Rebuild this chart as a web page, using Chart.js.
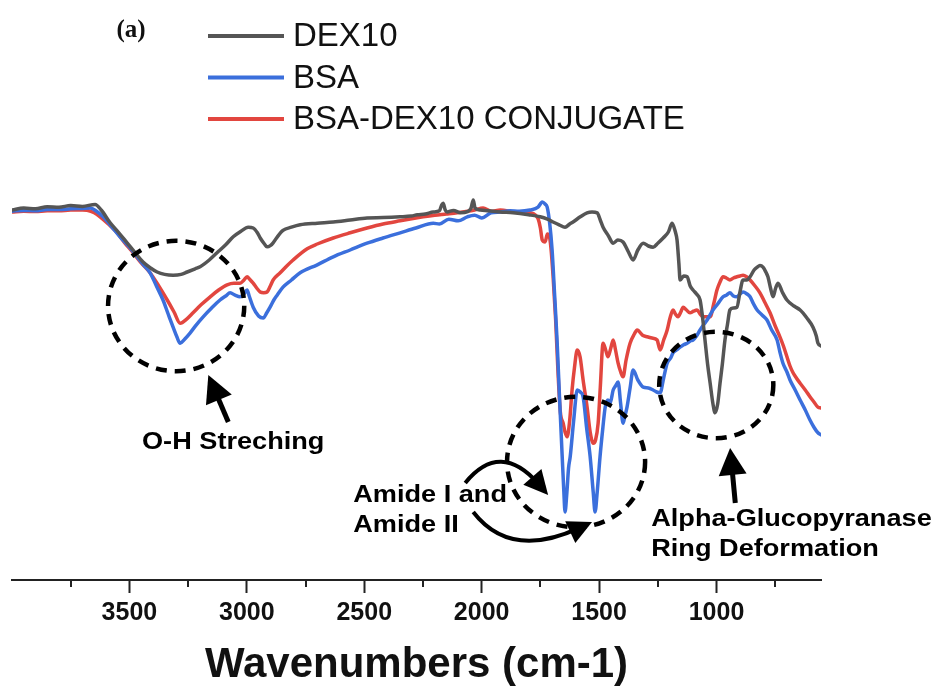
<!DOCTYPE html>
<html><head><meta charset="utf-8">
<script src="https://cdn.jsdelivr.net/npm/chart.js@4.4.1/dist/chart.umd.min.js"></script>
<style>html,body{margin:0;padding:0;background:#fff;overflow:hidden}canvas{display:block}</style>
</head><body>
<canvas id="c" width="941" height="695"></canvas>
<script>
// ---------- DATA (wavenumber cm-1, transmittance a.u.) ----------
const SERIES_NAMES = ['DEX10', 'BSA', 'BSA-DEX10 CONJUGATE'];
const DEX10 = [[4000,92.5],[3950,93],[3900,92.8],[3850,93.3],[3800,93.2],[3750,93.6],[3700,93.4],[3646,93.9],[3620,92.5],[3582,89.3],[3545,86.8],[3510,84.3],[3475,81.8],[3442,79.5],[3410,78],[3382,77],[3350,76.4],[3314,76.2],[3280,76.4],[3254,77],[3220,77.8],[3199,78.3],[3160,80],[3127,81.8],[3090,83.8],[3058,85.8],[3025,87.2],[2994,88.2],[2973,88],[2955,86.8],[2943,85.5],[2925,84],[2914,83.3],[2900,83.6],[2888,84.3],[2870,85.8],[2846,87.4],[2810,88.2],[2773,88.8],[2700,89.2],[2632,89.5],[2560,90],[2488,90.5],[2420,90.6],[2347,90.8],[2300,91],[2274,91.3],[2240,91.5],[2206,92],[2180,92.3],[2170,93.8],[2164,94.2],[2155,92.5],[2147,92],[2120,92.4],[2090,91.8],[2061,92.1],[2045,93],[2036,95],[2028,93],[2006,92.5],[1970,92.3],[1921,92],[1866,91.8],[1800,91.3],[1751,90.8],[1720,90.2],[1696,89.5],[1670,88.8],[1645,88.2],[1625,89],[1611,89.5],[1580,90.8],[1551,91.8],[1530,92],[1508,91.8],[1495,90],[1483,88.2],[1460,86],[1440,84.2],[1420,85],[1398,84.5],[1375,82],[1355,80],[1335,82.5],[1312,84.2],[1290,83.5],[1270,83.2],[1250,84.2],[1227,85.5],[1205,87],[1189,89.2],[1175,87],[1168,85],[1160,79],[1155,75],[1140,76],[1125,75.8],[1112,73.5],[1100,72.5],[1085,71.5],[1070,70],[1060,66],[1049,60],[1038,54],[1027,49.2],[1015,44],[1006,41.8],[995,44],[985,49.2],[975,54],[964,60],[953,64],[943,67.5],[928,68],[913,68.2],[900,72],[887,75],[870,75],[857,75.8],[840,77.5],[827,78.2],[815,78.6],[802,78.2],[790,77],[781,75.8],[770,73],[759,70.8],[748,73],[738,74.2],[720,72],[700,70],[670,68.5],[644,67.5],[615,65.5],[589,63.2],[575,61],[568,59.2],[555,58.5]];
const BSA = [[4000,92.2],[3950,92.4],[3900,92.3],[3850,92.6],[3800,92.6],[3750,92.8],[3700,92.9],[3667,93],[3640,92.2],[3612,90.8],[3575,88.3],[3540,85.8],[3500,83.2],[3467,80.8],[3440,78.8],[3412,76.8],[3385,73.5],[3357,70],[3335,66.5],[3314,63.2],[3298,60.8],[3284,59.2],[3265,60.2],[3241,61.8],[3215,63.8],[3186,65.8],[3150,68],[3114,70],[3090,71],[3071,71.8],[3050,71.2],[3029,70.8],[3012,71.5],[2999,72.5],[2990,71],[2973,68.2],[2950,66],[2930,65.5],[2915,66.8],[2901,68.2],[2885,70],[2871,71.2],[2846,73.2],[2810,75],[2773,76.8],[2700,78.8],[2632,80.8],[2560,82.5],[2488,84.2],[2420,85.5],[2347,86.8],[2280,88],[2206,89.2],[2180,89],[2140,90.2],[2100,89.8],[2061,90.8],[2030,91.2],[2000,90.5],[1960,91.8],[1921,92],[1880,92.3],[1840,92.2],[1794,92.5],[1760,93.2],[1742,94.5],[1730,94],[1721,93.2],[1710,89],[1700,82.5],[1690,72],[1679,60],[1668,45],[1657,30.8],[1650,22],[1645,17],[1637,22],[1630,28],[1623,30.8],[1608,40],[1593,47.5],[1580,47],[1568,45.8],[1553,38],[1538,30.8],[1525,22],[1517,17],[1508,22],[1496,30.8],[1484,38],[1474,43.2],[1462,45],[1453,44.2],[1440,47.5],[1430,48.5],[1419,49.5],[1408,44],[1398,39.2],[1390,41],[1381,43.2],[1368,48],[1355,52.5],[1335,50],[1312,48.2],[1290,48],[1270,47.5],[1255,47],[1240,46.8],[1225,50.5],[1210,54.2],[1195,55.5],[1185,56.8],[1170,57.5],[1155,58.2],[1140,58.8],[1125,59.2],[1110,59.8],[1100,60],[1085,61],[1070,62.5],[1055,63.8],[1040,65],[1028,66.2],[1015,67.5],[995,69],[972,70.8],[958,71.2],[943,71.8],[928,71],[913,70.8],[900,71.5],[887,72],[870,71.5],[857,70.8],[842,69],[827,67.5],[805,66.2],[785,65],[765,62.5],[742,60],[730,57],[717,54.2],[700,52],[687,50],[665,47.5],[644,45],[622,42.5],[602,40],[585,38.2],[568,36.8],[555,36.3]];
const CONJUGATE = [[4000,92],[3950,92.2],[3900,92.1],[3850,92.3],[3800,92.3],[3750,92.5],[3700,92.5],[3680,92.4],[3650,91.8],[3625,90.8],[3590,89],[3552,86.8],[3520,84.3],[3484,81.8],[3450,79.3],[3412,76.8],[3375,73.5],[3339,70],[3310,67],[3284,64.2],[3255,65.3],[3229,66.8],[3195,68.8],[3156,70.8],[3120,72.5],[3084,73.8],[3055,74.2],[3029,74.2],[3012,75],[2999,75.8],[2988,75.2],[2973,74.2],[2958,73],[2943,72],[2928,71.8],[2914,72],[2900,73.5],[2888,75],[2858,76.8],[2830,78.5],[2803,80],[2743,82.8],[2700,84],[2632,85.5],[2560,86.8],[2488,88],[2420,89],[2347,89.8],[2280,90.5],[2249,90.8],[2200,91.2],[2150,91.5],[2104,91.8],[2060,92.2],[2030,92.5],[1994,93],[1960,92.2],[1921,92.5],[1860,92],[1794,91.8],[1770,91.2],[1759,90.2],[1750,88],[1742,85],[1730,84.5],[1720,86.5],[1712,86],[1705,83],[1696,76],[1685,65],[1675,52],[1665,42],[1653,39.2],[1645,37],[1636,35.8],[1625,40],[1615,47.5],[1605,53],[1593,57.5],[1581,55.8],[1568,50],[1551,43.2],[1538,37],[1525,34.2],[1515,35],[1504,39.2],[1495,48],[1483,59.2],[1472,57.5],[1462,55.8],[1450,58],[1440,60],[1430,57.5],[1419,54.2],[1408,52],[1398,50.8],[1385,55],[1368,59.2],[1350,61.5],[1338,62.5],[1315,61.2],[1295,60.8],[1275,60.5],[1253,60],[1240,57.5],[1225,60],[1210,62.5],[1198,65.5],[1185,67.5],[1175,66.5],[1164,65.8],[1152,67],[1142,68.2],[1128,67.5],[1113,66.8],[1098,67.2],[1083,67.5],[1070,66.5],[1057,65.8],[1042,65.8],[1027,65.8],[1012,69],[998,72.5],[985,74.5],[972,75.8],[958,75.5],[943,75],[928,75.5],[913,75.8],[900,76],[887,76.2],[872,75.8],[857,75],[836,73.5],[815,71.8],[795,69.5],[772,66.8],[750,63.5],[730,60.8],[715,58.5],[700,55.8],[687,53.5],[674,51.8],[660,50.5],[644,49.2],[622,47.5],[602,45.8],[585,44.5],[568,43.2],[555,43]];
const MAJOR_TICKS = [3500, 3000, 2500, 2000, 1500, 1000];
const MINOR_TICKS = [3750, 3250, 2750, 2250, 1750, 1250, 750];
const X_TITLE = 'Wavenumbers (cm-1)';
const PANEL_LABEL = '(a)';
const COLORS = ['#555555', '#3b6fdc', '#e2463f'];

// annotation anchors in data units (wavenumber, transmittance)
const CIRCLES = [[3301, 68.5, 290, 16.3], [1598, 29.5, 294, 16.3], [1001, 48.75, 243, 13.3]];
const STRAIGHT_ARROWS = [[3079, 39.5, 3164, 51.25], [920, 19.25, 942, 33]];
const CURVED_ARROWS = [[2070, 24.25, 1921, 35, 1717, 21.25], [2036, 17, 1878, 5, 1530, 14.5]];
const NOTES = [
  {lines: ['O-H Streching'], x: 3058, y: 34.25, align: 'center'},
  {lines: ['Amide I and', 'Amide II'], x: 2547, y: 21, align: 'left'},
  {lines: ['Alpha-Glucopyranase', 'Ring Deformation'], x: 1278, y: 15, align: 'left'}
];

const toXY = a => a.map(p => ({x: p[0], y: p[1]}));

function head(ctx, tx, ty, ang, len, w) {
  ctx.beginPath();
  ctx.moveTo(tx, ty);
  const bx = tx - len * Math.cos(ang), by = ty - len * Math.sin(ang);
  ctx.lineTo(bx + w / 2 * Math.sin(ang), by - w / 2 * Math.cos(ang));
  ctx.lineTo(bx - w / 2 * Math.sin(ang), by + w / 2 * Math.cos(ang));
  ctx.closePath();
  ctx.fill();
}

const annotPlugin = {
  id: 'annot',
  afterDatasetsDraw(chart) {
    const ctx = chart.ctx, xs = chart.scales.x, ys = chart.scales.y;
    const X = v => xs.getPixelForValue(v), Y = v => ys.getPixelForValue(v);
    ctx.save();
    ctx.strokeStyle = '#000'; ctx.fillStyle = '#000';
    ctx.lineWidth = 4.5; ctx.setLineDash([11, 8]);
    CIRCLES.forEach(c => {
      const cx = X(c[0]), cy = Y(c[1]);
      const rx = Math.abs(X(c[0] + c[2]) - cx), ry = Math.abs(Y(c[1] + c[3]) - cy);
      ctx.beginPath(); ctx.ellipse(cx, cy, rx, ry, 0, 0, Math.PI * 2); ctx.stroke();
    });
    ctx.setLineDash([]);
    STRAIGHT_ARROWS.forEach(a => {
      const x0 = X(a[0]), y0 = Y(a[1]), x1 = X(a[2]), y1 = Y(a[3]);
      const ang = Math.atan2(y1 - y0, x1 - x0);
      ctx.lineWidth = 5;
      ctx.beginPath(); ctx.moveTo(x0, y0); ctx.lineTo(x1 - 20 * Math.cos(ang), y1 - 20 * Math.sin(ang)); ctx.stroke();
      head(ctx, x1, y1, ang, 27, 28);
    });
    CURVED_ARROWS.forEach(a => {
      const x0 = X(a[0]), y0 = Y(a[1]), cx = X(a[2]), cy = Y(a[3]), x1 = X(a[4]), y1 = Y(a[5]);
      const ang = Math.atan2(y1 - cy, x1 - cx);
      ctx.lineWidth = 4;
      ctx.beginPath(); ctx.moveTo(x0, y0);
      ctx.quadraticCurveTo(cx, cy, x1 - 14 * Math.cos(ang), y1 - 14 * Math.sin(ang)); ctx.stroke();
      head(ctx, x1, y1, ang, 24, 24);
    });
    ctx.font = 'bold 23px "Liberation Sans", Arial, sans-serif';
    ctx.textBaseline = 'middle';
    NOTES.forEach(n => {
      n.lines.forEach((ln, i) => {
        ctx.save();
        ctx.translate(X(n.x), Y(n.y) + i * 30);
        ctx.scale(1.18, 1);
        ctx.textAlign = n.align;
        ctx.fillText(ln, 0, 0);
        ctx.restore();
      });
    });
    ctx.restore();
  },
  afterDraw(chart) {
    const ctx = chart.ctx, xs = chart.scales.x;
    ctx.save();
    ctx.strokeStyle = '#222'; ctx.lineWidth = 2;
    MINOR_TICKS.forEach(v => {
      const px = Math.round(xs.getPixelForValue(v));
      ctx.beginPath(); ctx.moveTo(px, xs.top); ctx.lineTo(px, xs.top + 7); ctx.stroke();
    });
    ctx.fillStyle = '#111';
    ctx.font = 'bold 25px "Liberation Serif", serif';
    ctx.textBaseline = 'middle'; ctx.textAlign = 'center';
    ctx.fillText(PANEL_LABEL, 131, 31);
    ctx.textAlign = 'left';
    ctx.font = '33px "Liberation Sans", Arial, sans-serif';
    chart.data.datasets.forEach((ds, i) => {
      const y = 36 + i * 41.5;
      ctx.strokeStyle = ds.borderColor; ctx.lineWidth = 4;
      ctx.beginPath(); ctx.moveTo(208, y); ctx.lineTo(284, y); ctx.stroke();
      ctx.fillStyle = '#111';
      ctx.fillText(ds.label, 293, y + 1);
    });
    ctx.restore();
  }
};

const ALL_TICKS = [...MAJOR_TICKS, ...MINOR_TICKS].sort((a, b) => b - a);

new Chart(document.getElementById('c'), {
  type: 'line',
  data: {
    datasets: [DEX10, BSA, CONJUGATE].map((d, i) => ({
      label: SERIES_NAMES[i], data: toXY(d), borderColor: COLORS[i],
      borderWidth: 3.5, pointRadius: 0, fill: false, cubicInterpolationMode: 'monotone',
      borderJoinStyle: 'round', borderCapStyle: 'round'
    }))
  },
  options: {
    responsive: false, animation: false, devicePixelRatio: 1,
    layout: {padding: {left: 12, right: 120, top: 180, bottom: 0}},
    plugins: {legend: {display: false}, tooltip: {enabled: false}},
    scales: {
      x: {
        type: 'linear', reverse: true, min: 555, max: 4000,
        afterBuildTicks: s => { s.ticks = ALL_TICKS.map(v => ({value: v})); },
        afterFit: s => { s.height = 115; },
        grid: {display: true, drawOnChartArea: false, drawTicks: true, tickLength: 13, tickWidth: 2,
               tickColor: c => MAJOR_TICKS.includes(c.tick && c.tick.value) ? '#222' : 'rgba(0,0,0,0)'},
        border: {display: true, color: '#222', width: 2},
        ticks: {autoSkip: false, maxRotation: 0, padding: 5, color: '#111',
                font: {family: '"Liberation Sans", Arial, sans-serif', weight: 'bold', size: 25},
                callback: v => MAJOR_TICKS.includes(v) ? String(v) : ''},
        title: {display: true, text: X_TITLE, color: '#111', padding: {top: 0, bottom: 4},
                font: {family: '"Liberation Sans", Arial, sans-serif', weight: 'bold', size: 42}}
      },
      y: {display: false, min: 0, max: 100}
    }
  },
  plugins: [annotPlugin]
});
</script>
</body></html>
